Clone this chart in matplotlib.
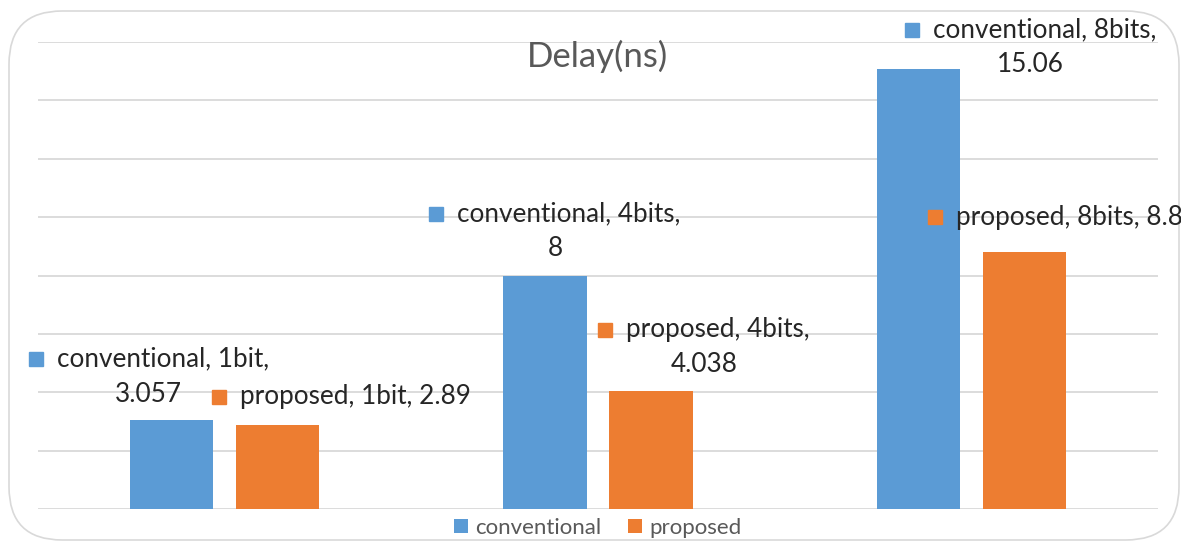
import matplotlib.pyplot as plt
import numpy as np
from matplotlib.patches import Rectangle, FancyBboxPatch

plt.rcParams['font.family'] = ['Lato', 'DejaVu Sans']

categories = ['1bit', '4bits', '8bits']
series = ['conventional', 'proposed']
conventional = [3.057, 8, 15.06]
proposed = [2.89, 4.038, 8.8]
colors = ['#5B9BD5', '#ED7D31']

# where each data label block sits, pixels from the top centre of its bar
# (dx, dy up, split into two lines or not)
label_offsets = {
    ('conventional', 0): (-23, 43, True),
    ('proposed', 0): (64, 28, False),
    ('conventional', 1): (10, 44, True),
    ('proposed', 1): (53, 44, True),
    ('conventional', 2): (112, 22, True),
    ('proposed', 2): (31, 35, False),
}

W, H = 1181, 542
fig = plt.figure(figsize=(W / 100, H / 100), dpi=100)
ax = fig.add_axes([38 / W, 1 - 509 / H, 1120 / W, 467 / H])

x = np.arange(len(categories))
bw = 0.2224
off = 0.142
ax.bar(x - off, conventional, bw, color=colors[0], zorder=3)
ax.bar(x + off, proposed, bw, color=colors[1], zorder=3)

ax.set_xlim(-0.5, len(categories) - 0.5)
ax.set_ylim(0, 16)
ax.set_yticks(np.arange(0, 17, 2))
ax.yaxis.grid(True, color='#D9D9D9', linewidth=1.3, zorder=0)
ax.set_axisbelow(True)
ax.tick_params(left=False, bottom=False, labelleft=False, labelbottom=False)
for s in ax.spines.values():
    s.set_visible(False)

# rounded chart border
fig.patches.append(FancyBboxPatch((9 / W, 2 / H), 1170 / W, 529 / H,
                                  boxstyle='round,pad=0,rounding_size=0.045',
                                  transform=fig.transFigure, fill=False,
                                  edgecolor='#D9D9D9', linewidth=1.2,
                                  mutation_aspect=W / H))

fig.text(597 / W, 1 - 56 / H, 'Delay(ns)', ha='center', va='center',
         fontsize=25, color='#595959')

renderer = fig.canvas.get_renderer()
lab_fs = 18.8
key = 14
line_h = 35


def draw_label(name, i, value, color):
    dx, dy, two = label_offsets[(name, i)]
    xpos = i - off if name == 'conventional' else i + off
    px, py = ax.transData.transform((xpos, value))
    cx, cy = px + dx, py + dy
    if two:
        first = '{}, {},'.format(name, categories[i])
        second = '{:g}'.format(value)
        y1 = cy + line_h / 2
    else:
        first = '{}, {}, {:g}'.format(name, categories[i], value)
        second = None
        y1 = cy
    t = fig.text(0, 0, first, fontsize=lab_fs, color='#262626',
                 ha='left', va='center', transform=None)
    w = t.get_window_extent(renderer=renderer).width
    left = cx - (w + key + 14) / 2
    t.set_position((left + key + 14, y1))
    fig.patches.append(Rectangle((left, y1 - key / 2), key, key, color=color,
                                 transform=None))
    if second:
        fig.text(cx, cy - line_h / 2, second, fontsize=lab_fs, color='#262626',
                 ha='center', va='center', transform=None)


for i in range(len(categories)):
    draw_label('conventional', i, conventional[i], colors[0])
    draw_label('proposed', i, proposed[i], colors[1])

# legend along the bottom
leg = ax.legend(series, loc='upper center', bbox_to_anchor=(0.5, 0.0),
                ncol=2, frameon=False, fontsize=16, labelcolor='#595959',
                handlelength=0.6, handleheight=0.6, handletextpad=0.35,
                columnspacing=1.2, borderaxespad=0)

fig.savefig('out.png', dpi=100)
